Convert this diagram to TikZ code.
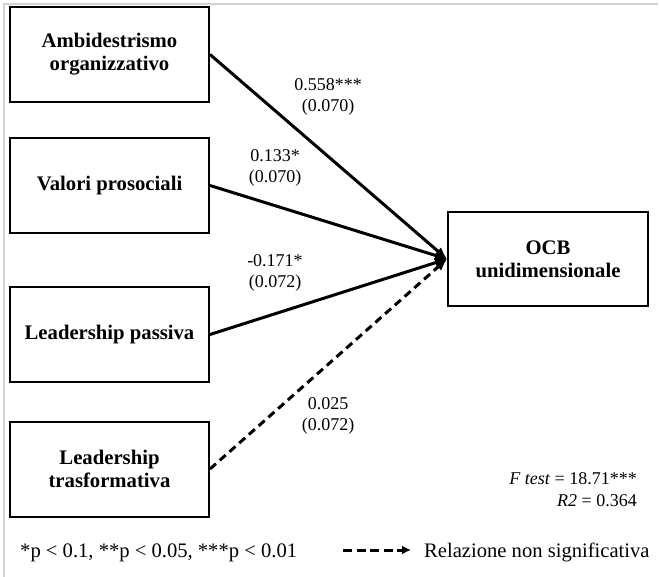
\documentclass[tikz,border=0pt]{standalone}
\usepackage{fontspec}
\setmainfont{Liberation Serif}
\usepackage{tikz}
\usetikzlibrary{arrows.meta}

\begin{document}
\begin{tikzpicture}[x=1pt, y=-1pt,
  caja/.style={draw, line width=2pt, minimum width=199pt, minimum height=95pt, align=center, inner sep=2pt, font=\fontsize{20.7}{23}\selectfont\bfseries},
  coef/.style={align=center, inner sep=0pt, font=\fontsize{18}{21}\selectfont},
  flecha/.style={line width=3pt, -{Latex[length=12pt,width=10pt]}},
  leyenda/.style={inner sep=0pt, font=\fontsize{20.6}{23}\selectfont}]
  \useasboundingbox (0,0) rectangle (659,577);
  \draw [gray!35, line width=1.5pt] (4,577) -- (4,4) -- (658,4); % cornice
  % variabili
  \node [caja] (amb) at (109.5,54.5) {Ambidestrismo\\organizzativo};
  \node [caja] (val) at (109.5,185.5) {Valori prosociali};
  \node [caja] (pas) at (109.5,334.5) {Leadership passiva};
  \node [caja] (tra) at (109.5,469) {Leadership\\trasformativa};
  \node [caja, minimum width=200pt, minimum height=94pt] (ocb) at (548,259) {OCB\\unidimensionale};
  % relazioni
  \draw [flecha] (amb.east) -- (ocb.west);
  \draw [flecha] (val.east) -- (ocb.west);
  \draw [flecha] (pas.east) -- (ocb.west);
  \draw [flecha, dash pattern=on 8pt off 5pt] (tra.east) -- (ocb.west); % non significativa
  % coefficienti
  \node [coef] (c1) at (328,97) {0.558***\\(0.070)};
  \node [coef] (c2) at (275,167.5) {0.133*\\(0.070)};
  \node [coef] (c3) at (275,272.5) {-0.171*\\(0.072)};
  \node [coef] (c4) at (328,416) {0.025\\(0.072)};
  \node [coef, anchor=base east] (ftest) at (637,484) {\textit{F test} = 18.71***};
  \node [coef, anchor=base east] (rdue) at (637,506) {\textit{R2} = 0.364};
  % legenda
  \node [leyenda, anchor=base west] (sig) at (20,557) {*p < 0.1, **p < 0.05, ***p < 0.01};
  \node [leyenda, anchor=base west] (rel) at (424,557) {Relazione non significativa};
  \coordinate (inizio) at (343,550);
  \draw [line width=3pt, dash pattern=on 9pt off 4.5pt, -{Latex[length=9pt,width=9pt]}] (inizio) -- ([xshift=-13pt]rel.west |- inizio);
\end{tikzpicture}
\end{document}
